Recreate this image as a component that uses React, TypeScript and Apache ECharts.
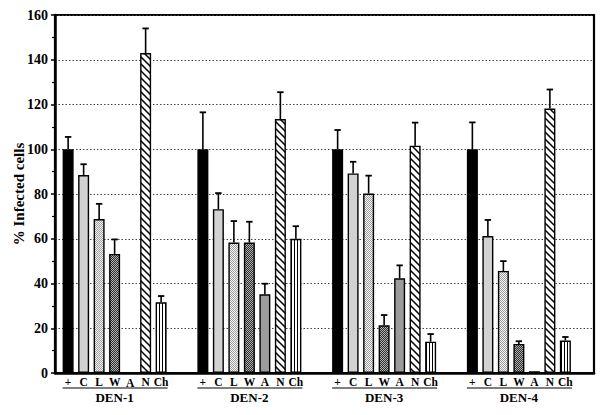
import React, { useEffect, useRef } from "react";
import * as echarts from "echarts";

const groups = ["DEN-1", "DEN-2", "DEN-3", "DEN-4"];
const treatments = ["+", "C", "L", "W", "A", "N", "Ch"];
// values[treatment][group]
const plusVals = [100, 100, 100, 100];
const cVals = [88.5, 73.2, 89.2, 61.2];
const lVals = [68.8, 58.3, 80.2, 45.6];
const wVals = [53.2, 58.3, 21.3, 13.0];
const aVals = [0, 35.2, 42.3, 0.8];
const nVals = [143, 113.5, 101.6, 118.2];
const chVals = [31.6, 60.0, 14.0, 14.5];
// error (upper) values
const plusErr = [5.5, 16.5, 8.6, 12];
const cErr = [4.8, 7.2, 5.2, 7.2];
const lErr = [6.8, 9.6, 8.0, 4.4];
const wErr = [6.5, 9.3, 4.6, 1.2];
const aErr = [0, 4.7, 5.8, 0];
const nErr = [11, 12, 10.3, 8.5];
const chErr = [2.8, 5.6, 3.4, 1.6];

const allVals = [plusVals, cVals, lVals, wVals, aVals, nVals, chVals];
const allErr = [plusErr, cErr, lErr, wErr, aErr, nErr, chErr];

const FONT = "'Liberation Serif', 'Times New Roman', serif";
const BAR_W = 11;
const GAP = 4.5;
const SLOTS = 8;

function makeCanvas(w: number, h: number, draw: (ctx: CanvasRenderingContext2D) => void) {
  const c = document.createElement("canvas");
  c.width = w;
  c.height = h;
  const ctx = c.getContext("2d")!;
  draw(ctx);
  return c;
}

export default function App() {
  const ref = useRef<HTMLDivElement>(null);
  useEffect(() => {
    if (!ref.current) return;
    const chart = echarts.init(ref.current, undefined, { renderer: "svg" });

    const stipple = makeCanvas(2, 2, (ctx) => {
      ctx.fillStyle = "#f4f4f4";
      ctx.fillRect(0, 0, 2, 2);
      ctx.fillStyle = "#a0a0a0";
      ctx.fillRect(0, 0, 1, 1);
      ctx.fillRect(1, 1, 1, 1);
    });
    const check = makeCanvas(2, 2, (ctx) => {
      ctx.fillStyle = "#303030";
      ctx.fillRect(0, 0, 2, 2);
      ctx.fillStyle = "#b0b0b0";
      ctx.fillRect(0, 0, 1, 1);
      ctx.fillRect(1, 1, 1, 1);
    });
    const diag = makeCanvas(7, 7, (ctx) => {
      ctx.fillStyle = "#ffffff";
      ctx.fillRect(0, 0, 7, 7);
      ctx.strokeStyle = "#000";
      ctx.lineWidth = 1.5;
      ctx.beginPath();
      ctx.moveTo(-1, -1);
      ctx.lineTo(8, 8);
      ctx.moveTo(-8, -1);
      ctx.lineTo(1, 8);
      ctx.moveTo(6, -1);
      ctx.lineTo(15, 8);
      ctx.stroke();
    });
    const vert = makeCanvas(3, 2, (ctx) => {
      ctx.fillStyle = "#ffffff";
      ctx.fillRect(0, 0, 3, 2);
      ctx.fillStyle = "#000";
      ctx.fillRect(0, 0, 1, 2);
    });

    const fills: any[] = [
      "#000000",
      "#d2d2d2",
      { image: stipple, repeat: "repeat" },
      { image: check, repeat: "repeat" },
      "#9c9c9c",
      { image: diag, repeat: "repeat" },
      { image: vert, repeat: "repeat" },
    ];

    const barSeries: any[] = treatments.map((t, i) => ({
      type: "bar",
      name: t,
      data: allVals[i],
      barWidth: BAR_W,
      barGap: (GAP / BAR_W) * 100 + "%",
      itemStyle: { color: fills[i], borderColor: "#000", borderWidth: 1.4 },
      label: {
        show: true,
        position: "bottom",
        distance: 3,
        formatter: t,
        fontFamily: FONT,
        fontWeight: "bold",
        fontSize: 11.5,
        color: "#000",
      },
      z: 3,
    }));
    barSeries.push({ type: "bar", name: "_", data: ["-", "-", "-", "-"], barWidth: BAR_W, silent: true });

    const slotOffset = (i: number) => (i - (SLOTS - 1) / 2) * (BAR_W + GAP);

    const errData: any[] = [];
    treatments.forEach((t, i) => {
      groups.forEach((g, gi) => {
        if (allErr[i][gi] > 0) errData.push([gi, allVals[i][gi], allErr[i][gi], i]);
      });
    });

    const option: any = {
      animation: false,
      grid: {
        left: 55,
        right: 6,
        top: 15,
        bottom: 42,
        show: true,
        borderColor: "#000",
        borderWidth: 2.2,
        containLabel: false,
        outerBoundsMode: "none",
      },
      xAxis: {
        type: "category",
        data: groups,
        axisLine: { lineStyle: { color: "#000", width: 2.5 } },
        axisTick: { show: false },
        axisLabel: { show: false },
        splitLine: { show: false },
      },
      yAxis: {
        type: "value",
        min: 0,
        max: 160,
        interval: 20,
        name: "% Infected cells",
        nameLocation: "middle",
        nameGap: 29,
        nameMoveOverlap: false,
        nameTextStyle: { fontFamily: FONT, fontWeight: "bold", fontSize: 15, color: "#000" },
        axisLine: { show: true, lineStyle: { color: "#000", width: 2.5 } },
        axisTick: { show: true, inside: false, length: 4, lineStyle: { color: "#000", width: 1.5 } },
        minorTick: { show: true, splitNumber: 2, length: 3, lineStyle: { color: "#000", width: 1.2 } },
        axisLabel: { fontFamily: FONT, fontWeight: "bold", fontSize: 14, color: "#000", margin: 7 },
        splitLine: { show: true, lineStyle: { color: "#444", type: [1.5, 2], width: 1 } },
      },
      series: [
        ...barSeries,
        {
          type: "custom",
          name: "err",
          data: errData,
          encode: { x: 0, y: 1 },
          z: 4,
          renderItem: (params: any, api: any) => {
            const gi = api.value(0);
            const v = api.value(1);
            const e = api.value(2);
            const ti = api.value(3);
            const base = api.coord([gi, v]);
            const top = api.coord([gi, v + e]);
            const x = base[0] + slotOffset(ti);
            return {
              type: "group",
              children: [
                { type: "line", shape: { x1: x, y1: base[1], x2: x, y2: top[1] }, style: { stroke: "#000", lineWidth: 1.6 } },
                { type: "line", shape: { x1: x - 3.2, y1: top[1], x2: x + 3.2, y2: top[1] }, style: { stroke: "#000", lineWidth: 1.8 } },
              ],
            };
          },
        },
        {
          type: "custom",
          name: "groupLabels",
          data: groups.map((g, gi) => [gi, 0]),
          encode: { x: 0, y: 1 },
          clip: false,
          renderItem: (params: any, api: any) => {
            const gi = api.value(0);
            const p = api.coord([gi, 0]);
            const x1 = p[0] + slotOffset(0) - BAR_W / 2;
            const x2 = p[0] + slotOffset(6) + BAR_W / 2 + 1;
            const cx = p[0] + slotOffset(3);
            return {
              type: "group",
              children: [
                {
                  type: "line",
                  shape: { x1, y1: p[1] + 15, x2, y2: p[1] + 15 },
                  style: { stroke: "#000", lineWidth: 1.2 },
                },
                {
                  type: "text",
                  x: cx,
                  y: p[1] + 24.5,
                  style: {
                    text: groups[gi],
                    fontFamily: FONT,
                    fontWeight: "bold",
                    fontSize: 13,
                    fill: "#000",
                    align: "center",
                    verticalAlign: "middle",
                  },
                },
              ],
            };
          },
        },
      ],
    };
    chart.setOption(option);
    return () => chart.dispose();
  }, []);
  return <div ref={ref} style={{ position: "absolute", left: 0, top: 0, width: 600, height: 415, background: "#fff" }} />;
}
